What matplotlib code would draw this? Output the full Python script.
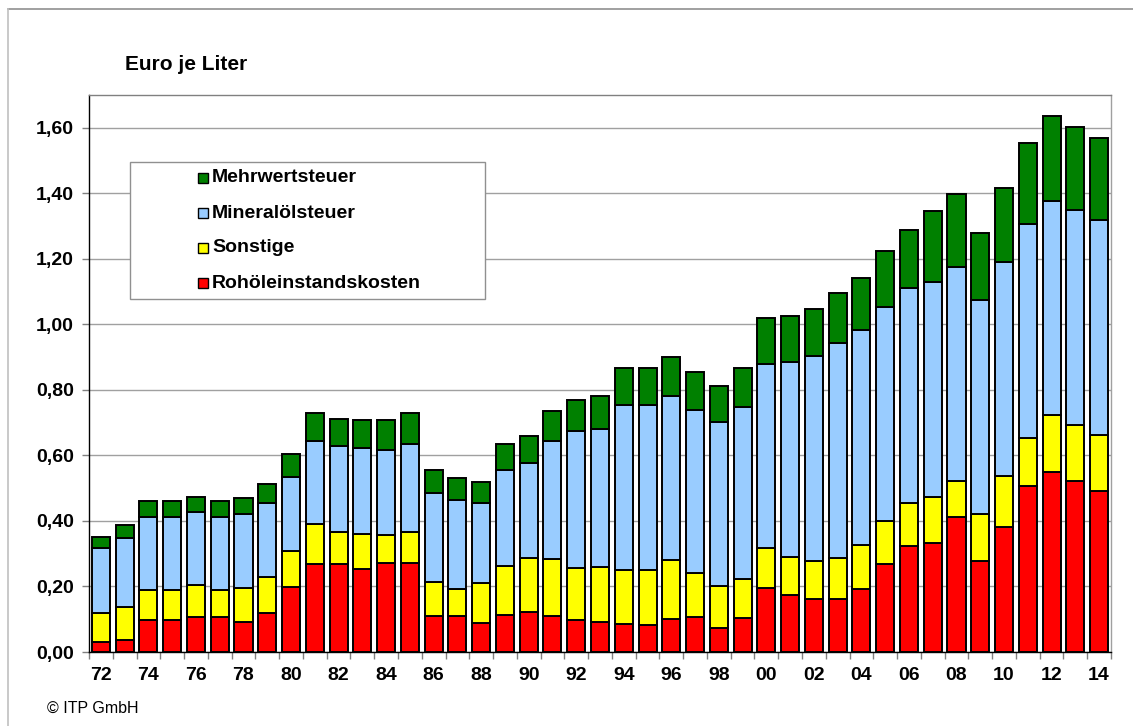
import matplotlib
matplotlib.use("Agg")
import matplotlib.pyplot as plt
from matplotlib.patches import Rectangle
from matplotlib.lines import Line2D
import numpy as np

plt.rcParams['font.family'] = ['Liberation Sans', 'DejaVu Sans']

years = ["72", "73", "74", "75", "76", "77", "78", "79", "80", "81", "82", "83", "84", "85",
         "86", "87", "88", "89", "90", "91", "92", "93", "94", "95", "96", "97", "98", "99",
         "00", "01", "02", "03", "04", "05", "06", "07", "08", "09", "10", "11", "12", "13", "14"]

rohoel = [0.031, 0.036, 0.097, 0.097, 0.106, 0.106, 0.092, 0.120, 0.199, 0.269, 0.269, 0.254,
          0.271, 0.271, 0.111, 0.109, 0.090, 0.113, 0.121, 0.110, 0.099, 0.092, 0.085, 0.081,
          0.102, 0.107, 0.074, 0.104, 0.194, 0.173, 0.163, 0.163, 0.191, 0.270, 0.324, 0.333,
          0.412, 0.277, 0.381, 0.507, 0.550, 0.522, 0.492]
sonstige = [0.089, 0.102, 0.092, 0.091, 0.097, 0.082, 0.104, 0.110, 0.110, 0.122, 0.098, 0.107,
            0.087, 0.096, 0.103, 0.084, 0.121, 0.151, 0.165, 0.173, 0.156, 0.168, 0.165, 0.169,
            0.179, 0.133, 0.127, 0.119, 0.122, 0.118, 0.116, 0.125, 0.137, 0.130, 0.132, 0.140,
            0.110, 0.143, 0.155, 0.145, 0.172, 0.172, 0.171]
mineraloel = [0.197, 0.211, 0.224, 0.224, 0.225, 0.224, 0.225, 0.225, 0.224, 0.252, 0.261, 0.262,
              0.260, 0.269, 0.271, 0.271, 0.245, 0.292, 0.292, 0.362, 0.418, 0.421, 0.503, 0.503,
              0.500, 0.500, 0.500, 0.524, 0.563, 0.594, 0.625, 0.656, 0.655, 0.653, 0.654, 0.656,
              0.652, 0.653, 0.653, 0.653, 0.653, 0.655, 0.656]
mwst = [0.035, 0.039, 0.047, 0.048, 0.046, 0.048, 0.050, 0.058, 0.070, 0.086, 0.082, 0.085,
        0.089, 0.092, 0.069, 0.066, 0.063, 0.079, 0.081, 0.091, 0.097, 0.101, 0.114, 0.114,
        0.119, 0.114, 0.112, 0.120, 0.140, 0.142, 0.143, 0.152, 0.157, 0.170, 0.178, 0.216,
        0.224, 0.206, 0.226, 0.249, 0.262, 0.254, 0.249]

series_names = ["Rohöleinstandskosten", "Sonstige", "Mineralölsteuer", "Mehrwertsteuer"]
series_colors = ["#FF0000", "#FFFF00", "#99CCFF", "#008000"]
yticks = [0.0, 0.2, 0.4, 0.6, 0.8, 1.0, 1.2, 1.4, 1.6]
ytick_labels = ["0,00", "0,20", "0,40", "0,60", "0,80", "1,00", "1,20", "1,40", "1,60"]

W, H = 1133, 726
fig = plt.figure(figsize=(W / 100, H / 100), dpi=100)
fig.patch.set_facecolor("white")

def fx(px):
    return px / W

def fy(py):
    return 1 - py / H

ax = fig.add_axes([fx(89), fy(652), fx(1111) - fx(89), fy(95) - fy(652)])

x = np.arange(len(years))
bottom = np.zeros(len(years))
for vals, name, col in zip([rohoel, sonstige, mineraloel, mwst], series_names, series_colors):
    v = np.array(vals)
    ax.bar(x, v, bottom=bottom, width=0.76, color=col, edgecolor="black",
           linewidth=1.4, label=name, zorder=3)
    bottom += v

ax.set_xlim(-0.5, len(years) - 0.5)
ax.set_ylim(0, 1.70)

ax.set_yticks(yticks)
ax.set_yticklabels(ytick_labels, fontsize=14, fontweight="bold")
ax.yaxis.grid(True, color="#a0a0a0", linewidth=1.0, zorder=0)
ax.set_axisbelow(True)

ax.set_xticks(x[::2])
ax.set_xticklabels(years[::2], fontsize=14, fontweight="bold")
ax.set_xticks(np.arange(-0.5, len(years), 1), minor=True)
ax.tick_params(axis="x", which="major", length=0, pad=11)
ax.tick_params(axis="x", which="minor", length=5, width=1, color="#808080")
ax.tick_params(axis="y", length=5, width=1, color="#808080", pad=6)

ax.spines["left"].set_color("black")
ax.spines["bottom"].set_color("black")
ax.spines["top"].set_color("#808080")
ax.spines["right"].set_color("#a0a0a0")
for s in ax.spines.values():
    s.set_linewidth(1.0)

# title
fig.text(fx(125), fy(64), "Euro je Liter", fontsize=15, fontweight="bold",
         ha="left", va="center")

# copyright
fig.text(fx(47), fy(708), "© ITP GmbH", fontsize=11.5, ha="left", va="center")

# outer frame lines
fig.add_artist(Line2D([fx(8), 1.0], [fy(9), fy(9)], color="#909090", linewidth=1.2))
fig.add_artist(Line2D([fx(8), fx(8)], [fy(9), 0.0], color="#c0c0c0", linewidth=1.2))

# legend box (manual)
fig.add_artist(Rectangle((fx(130), fy(299)), fx(485) - fx(130), fy(162) - fy(299),
                         transform=fig.transFigure, facecolor="white",
                         edgecolor="#909090", linewidth=1.0, zorder=5))
leg_y = [178, 213, 248, 283]
leg_order = [3, 2, 1, 0]
for yy, idx in zip(leg_y, leg_order):
    fig.add_artist(Rectangle((fx(198), fy(yy + 5)), fx(10), 10 / H,
                             transform=fig.transFigure, facecolor=series_colors[idx],
                             edgecolor="black", linewidth=1.0, zorder=6))
    fig.text(fx(212), fy(yy), series_names[idx], fontsize=14, fontweight="bold",
             ha="left", va="center", zorder=7)

fig.savefig("out.png", dpi=100)
